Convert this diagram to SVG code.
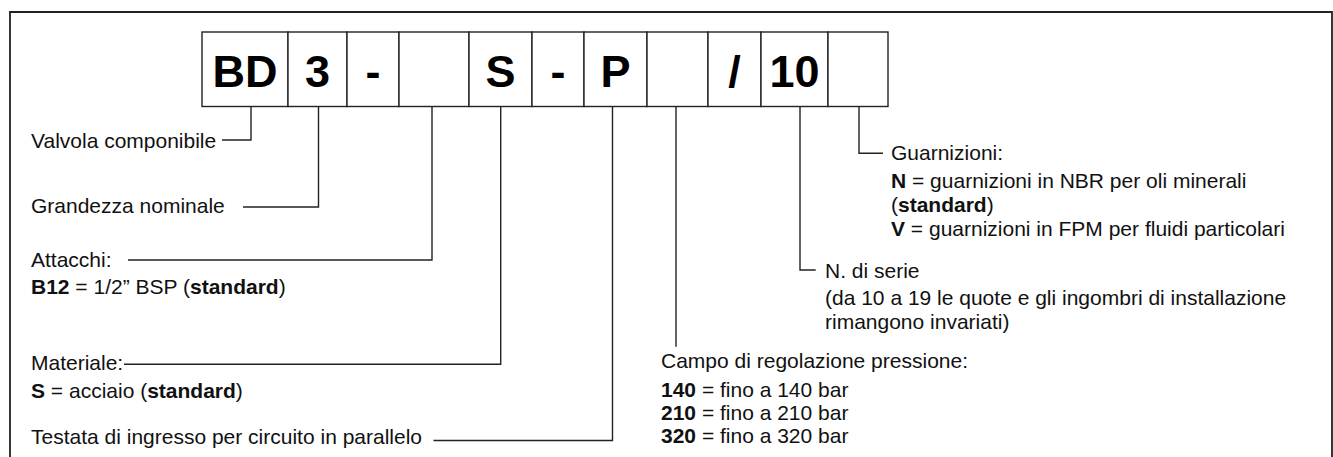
<svg xmlns="http://www.w3.org/2000/svg" width="1333" height="457" viewBox="0 0 1333 457">
<style>
.t{font-family:"Liberation Sans",Arial,sans-serif;font-size:21px;fill:#111}
.b{font-weight:bold}
.code{font-family:"Liberation Sans",Arial,sans-serif;font-size:45px;font-weight:bold;fill:#000;text-anchor:middle}
.box{fill:#fff;stroke:#222;stroke-width:1.4}
.ln{fill:none;stroke:#222;stroke-width:1.4}
.frame{fill:none;stroke:#222;stroke-width:1.8}
</style>
<rect width="1333" height="457" fill="#fff"/>
<path class="frame" d="M10,457 V12 H1332 V457"/>
<g id="code">
  <g id="box-bd"><rect class="box" x="202" y="32" width="86" height="74.5"/><text class="code" x="245" y="87">BD</text></g>
  <g id="box-3"><rect class="box" x="288" y="32" width="59" height="74.5"/><text class="code" x="317.5" y="87">3</text></g>
  <g id="box-dash1"><rect class="box" x="347" y="32" width="52" height="74.5"/><text class="code" x="373" y="87">-</text></g>
  <g id="box-attacchi"><rect class="box" x="399" y="32" width="70" height="74.5"/></g>
  <g id="box-s"><rect class="box" x="469" y="32" width="63" height="74.5"/><text class="code" x="500.5" y="87">S</text></g>
  <g id="box-dash2"><rect class="box" x="532" y="32" width="52" height="74.5"/><text class="code" x="558" y="87">-</text></g>
  <g id="box-p"><rect class="box" x="584" y="32" width="63" height="74.5"/><text class="code" x="615.5" y="87">P</text></g>
  <g id="box-pressione"><rect class="box" x="647" y="32" width="61" height="74.5"/></g>
  <g id="box-slash"><rect class="box" x="708" y="32" width="53" height="74.5"/><text class="code" x="734.5" y="87">/</text></g>
  <g id="box-10"><rect class="box" x="761" y="32" width="67" height="74.5"/><text class="code" x="794.5" y="87">10</text></g>
  <g id="box-guarnizioni"><rect class="box" x="828" y="32" width="60" height="74.5"/></g>
</g>
<g id="connectors">
  <path class="ln" d="M251,106.5 V140 H222"/>
  <path class="ln" d="M318.5,106.5 V207 H243"/>
  <path class="ln" d="M432,106.5 V260 H128"/>
  <path class="ln" d="M500.7,106.5 V364.3 H124"/>
  <path class="ln" d="M612.5,106.5 V440.5 H433.5"/>
  <path class="ln" d="M676,106.5 V346.7"/>
  <path class="ln" d="M800,106.5 V270 H815.7"/>
  <path class="ln" d="M859,106.5 V153.3 H883"/>
</g>
<g id="label-valvola"><text class="t" x="31" y="147.5">Valvola componibile</text></g>
<g id="label-grandezza"><text class="t" x="31" y="213">Grandezza nominale</text></g>
<g id="label-attacchi">
  <text class="t" x="31" y="267">Attacchi:</text>
  <text class="t" x="31" y="294"><tspan class="b">B12</tspan> = 1/2” BSP (<tspan class="b">standard</tspan>)</text>
</g>
<g id="label-materiale">
  <text class="t" x="31" y="370">Materiale:</text>
  <text class="t" x="31" y="398"><tspan class="b">S</tspan> = acciaio (<tspan class="b">standard</tspan>)</text>
</g>
<g id="label-testata"><text class="t" x="31" y="444">Testata di ingresso per circuito in parallelo</text></g>
<g id="label-campo">
  <text class="t" x="661" y="368">Campo di regolazione pressione:</text>
  <text class="t" x="661" y="397"><tspan class="b">140</tspan> = fino a 140 bar</text>
  <text class="t" x="661" y="420"><tspan class="b">210</tspan> = fino a 210 bar</text>
  <text class="t" x="661" y="443"><tspan class="b">320</tspan> = fino a 320 bar</text>
</g>
<g id="label-serie">
  <text class="t" x="825" y="278">N. di serie</text>
  <text class="t" x="825" y="305">(da 10 a 19 le quote e gli ingombri di installazione</text>
  <text class="t" x="825" y="329">rimangono invariati)</text>
</g>
<g id="label-guarnizioni">
  <text class="t" x="891" y="159.5">Guarnizioni:</text>
  <text class="t" x="891" y="188"><tspan class="b">N</tspan> = guarnizioni in NBR per oli minerali</text>
  <text class="t" x="891" y="212">(<tspan class="b">standard</tspan>)</text>
  <text class="t" x="891" y="236"><tspan class="b">V</tspan> = guarnizioni in FPM per fluidi particolari</text>
</g>
</svg>
